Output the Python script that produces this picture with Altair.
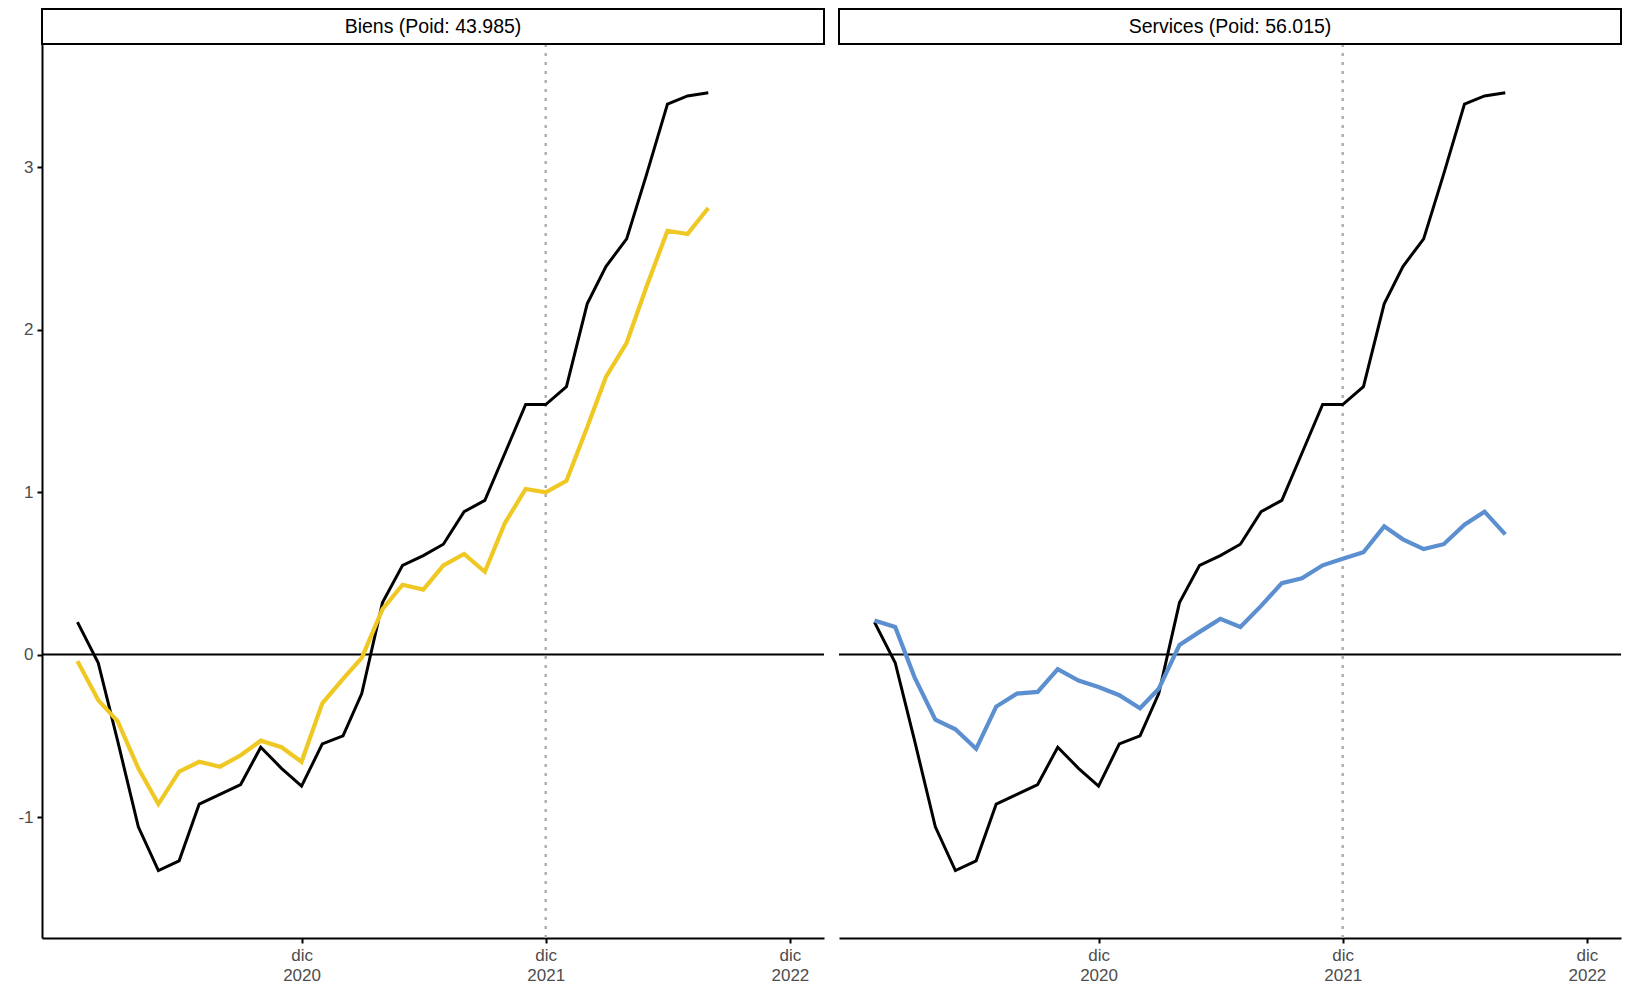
import altair as alt
import pandas as pd

# Monthly observations, Jan 2020 .. Aug 2022
months = pd.date_range("2020-01-01", periods=32, freq="MS").strftime("%Y-%m-%dT00:00:00").tolist()

total = [0.20, -0.05, -0.53, -1.06, -1.33, -1.27, -0.92, -0.86, -0.80, -0.57, -0.70, -0.81,
         -0.55, -0.50, -0.24, 0.32, 0.55, 0.61, 0.68, 0.88, 0.95, 1.24, 1.54, 1.54,
         1.65, 2.16, 2.39, 2.56, 2.96, 3.39, 3.44, 3.46]

biens = [-0.04, -0.28, -0.41, -0.70, -0.92, -0.72, -0.66, -0.69, -0.62, -0.53, -0.57, -0.66,
         -0.30, -0.15, -0.02, 0.28, 0.43, 0.40, 0.55, 0.62, 0.51, 0.81, 1.02, 1.00,
         1.07, 1.40, 1.71, 1.92, 2.27, 2.61, 2.59, 2.75]

services = [0.21, 0.17, -0.14, -0.40, -0.46, -0.58, -0.32, -0.24, -0.23, -0.09, -0.16, -0.20,
            -0.25, -0.33, -0.21, 0.06, 0.14, 0.22, 0.17, 0.30, 0.44, 0.47, 0.55, 0.59,
            0.63, 0.79, 0.71, 0.65, 0.68, 0.80, 0.88, 0.74]

panel_labels = ["Biens (Poid: 43.985)", "Services (Poid: 56.015)"]
panel_colors = ["#F0C823", "#5B8FD0"]
y_ticks = [-1, 0, 1, 2, 3]
x_tick_years = [2020, 2021, 2022]
marker_date = "2021-12-01T00:00:00"

W, H = 782, 894
FONT = "Liberation Sans"

x_scale = alt.Scale(domain=[alt.DateTime(year=2019, month=11, date=9),
                            alt.DateTime(year=2023, month=1, date=21)])
y_scale = alt.Scale(domain=[-1.745, 3.76], nice=False, zero=False)

x_axis = alt.Axis(values=[alt.DateTime(year=yy, month=12, date=1) for yy in x_tick_years],
                  labelExpr="['dic', timeFormat(datum.value, '%Y')]",
                  title=None, tickSize=5, tickWidth=2, domainWidth=2,
                  labelPadding=4, labelLineHeight=20, labelFontSize=17,
                  labelAngle=0, labelAlign="center", labelBaseline="top")


def y_axis(show):
    if not show:
        return None
    return alt.Axis(values=y_ticks, title=None, tickSize=5, tickWidth=2, domainWidth=2,
                    labelExpr="datum.value < 0 ? '-' + abs(datum.value) : '' + datum.value",
                    labelPadding=4, labelFontSize=17, minExtent=29, maxExtent=29)


def panel(label, series, color, show_y):
    df = pd.DataFrame({"date": months, "total": total, "val": series})
    ax = y_axis(show_y)

    def X(field):
        return alt.X(field, scale=x_scale, axis=x_axis)

    def Y(field):
        return alt.Y(field, scale=y_scale, axis=ax)

    zero = alt.Chart(pd.DataFrame({"z": [0]})).mark_rule(
        color="black", strokeWidth=2).encode(y=Y("z:Q"))
    vline = alt.Chart(pd.DataFrame({"d": [marker_date]})).mark_rule(
        color="#B0B0B0", strokeDash=[3, 6], strokeWidth=2.5).encode(x=X("d:T"))
    black = alt.Chart(df).mark_line(color="black", strokeWidth=3).encode(
        x=X("date:T"), y=Y("total:Q"))
    colored = alt.Chart(df).mark_line(color=color, strokeWidth=4.2).encode(
        x=X("date:T"), y=Y("val:Q"))
    lab = pd.DataFrame({"label": [label]})
    strip = alt.Chart(lab).mark_rect(fill="white", stroke="black", strokeWidth=2, clip=False).encode(
        x=alt.value(0), x2=alt.value(W), y=alt.value(-35), y2=alt.value(0))
    strip_text = alt.Chart(lab).mark_text(font=FONT, fontSize=19.5, color="black",
                                          align="center", baseline="middle").encode(
        x=alt.value(W / 2), y=alt.value(-17), text="label:N")
    return alt.layer(zero, vline, black, colored, strip, strip_text).properties(width=W, height=H)


left = panel(panel_labels[0], biens, panel_colors[0], True)
right = panel(panel_labels[1], services, panel_colors[1], False)

chart = alt.hconcat(left, right, spacing=13).properties(
    padding={"left": 5, "right": 5, "top": 0, "bottom": 0}
).configure_view(stroke=None).configure_axis(
    grid=False, domainColor="black", tickColor="black",
    labelColor="#4D4D4D", labelFont=FONT
)

chart.save("out.html", embed_options={"renderer": "svg", "actions": False})
